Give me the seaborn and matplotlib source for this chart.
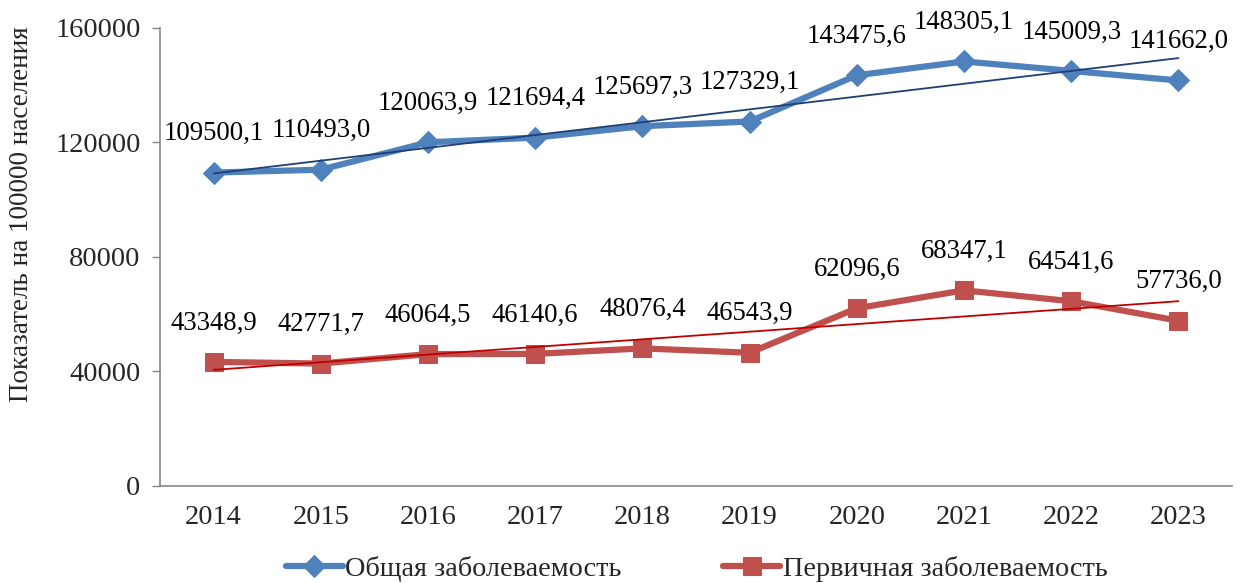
import numpy as np
import pandas as pd
import matplotlib
matplotlib.use("Agg")
import matplotlib.pyplot as plt
import seaborn as sns

years = ["2014", "2015", "2016", "2017", "2018", "2019", "2020", "2021", "2022", "2023"]
total = [109500.1, 110493.0, 120063.9, 121694.4, 125697.3, 127329.1, 143475.6, 148305.1, 145009.3, 141662.0]
primary = [43348.9, 42771.7, 46064.5, 46140.6, 48076.4, 46543.9, 62096.6, 68347.1, 64541.6, 57736.0]
series_names = ["Общая заболеваемость", "Первичная заболеваемость"]
y_ticks = [0, 40000, 80000, 120000, 160000]

sns.set_style("white")
plt.rcParams['font.family'] = ['Liberation Serif', 'DejaVu Serif']

fig = plt.figure(figsize=(12.42, 5.83), dpi=100)
ax = fig.add_axes([0.1288, 0.1664, 0.8632, 0.7856])

idx = np.arange(len(years))
df = pd.DataFrame({
    "x": np.concatenate([idx, idx]),
    "y": total + primary,
    "s": [series_names[0]] * len(years) + [series_names[1]] * len(years),
})

colors = ["#4F81BD", "#C0504D"]
trend_colors = ["#1F3F73", "#C00000"]
markers = ["D", "s"]
msizes = [11, 13]

for i, (name, vals) in enumerate(zip(series_names, [total, primary])):
    sub = df[df["s"] == name]
    sns.lineplot(data=sub, x="x", y="y", ax=ax, color=colors[i], lw=4.5,
                 marker=markers[i], markersize=msizes[i], markeredgecolor=colors[i],
                 label=name, zorder=3)
    sns.regplot(data=sub, x="x", y="y", ax=ax, scatter=False, ci=None,
                line_kws=dict(color=trend_colors[i], lw=1.3, zorder=4), truncate=True)
    for xi, v in zip(idx, vals):
        ax.annotate(f"{v:.1f}".replace(".", ","), (xi, v), xytext=(0, 28),
                    textcoords="offset points", ha="center", va="center",
                    fontsize=19.3, color="black", zorder=5)

ax.set_xlim(-0.5, 9.5)
ax.set_ylim(0, 160000)
ax.set_yticks(y_ticks)
ax.set_yticklabels([str(t) for t in y_ticks], fontsize=20.5)
ax.set_xticks(np.arange(-0.5, 10, 1))
ax.set_xticklabels([])
ax.set_xticks(idx, minor=True)
ax.set_xticklabels(years, minor=True, fontsize=20.5)
ax.tick_params(axis="x", which="minor", length=0, pad=14)
ax.tick_params(axis="x", which="major", length=6, width=1, color="#868686", direction="out")
ax.tick_params(axis="y", length=6, width=1, color="#868686", direction="out", pad=8, left=True)
ax.set_xlabel("")
ax.set_ylabel("Показатель на 100000 населения", fontsize=19.5)
ax.yaxis.label.set_va("center")
ax.yaxis.set_label_coords(-0.1287, 0.594)

for side in ["top", "right"]:
    ax.spines[side].set_visible(False)
for side in ["left", "bottom"]:
    ax.spines[side].set_color("#868686")
    ax.spines[side].set_linewidth(1.2)

ax.get_legend().remove()
handles, labels = ax.get_legend_handles_labels()
fig.legend(handles[:2], labels[:2], loc="center", bbox_to_anchor=(0.561, 0.024), ncol=2,
           frameon=False, fontsize=20.3, handlelength=2.0, handletextpad=0.1,
           columnspacing=3.6, borderpad=0)

fig.savefig("out.png", dpi=100)
